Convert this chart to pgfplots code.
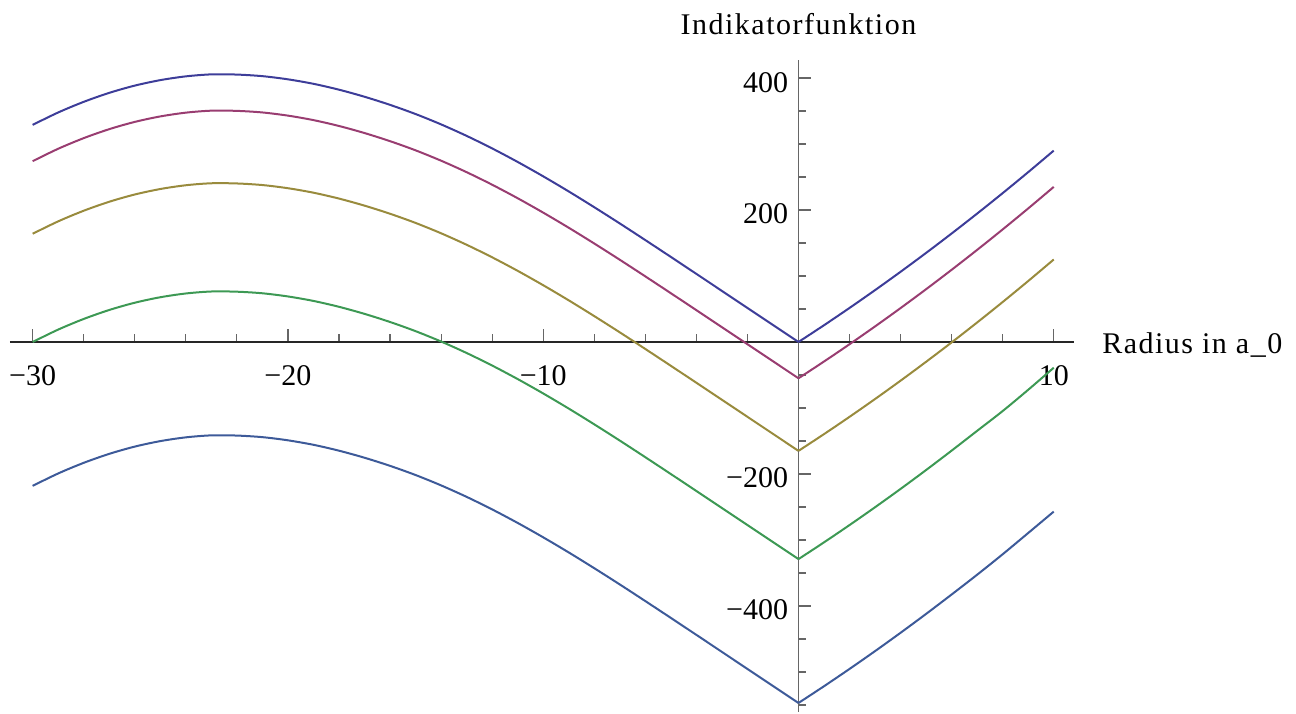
\documentclass[border=0pt]{standalone}
\usepackage{fontspec}
\setmainfont{Liberation Serif}
\newfontfamily\spaced{Liberation Serif}[LetterSpace=5]
\usepackage{pgfplots}
\usepackage{pgfplotstable}
\pgfplotsset{compat=1.18}

\definecolor{c1}{RGB}{61,61,153}
\definecolor{c2}{RGB}{153,61,113}
\definecolor{c3}{RGB}{153,139,61}
\definecolor{c4}{RGB}{61,153,84}
\definecolor{c5}{RGB}{61,90,153}

\newcommand\lbl{\fontsize{15}{18}\selectfont}

% left branch, r from -30 to 0
\pgfplotstableread{
x a b c d e
-30 329.0 274.0 164.0 0.0 -218.0
-29 347.8 292.8 182.8 18.8 -199.2
-28 363.9 308.9 198.9 34.9 -183.1
-27 377.5 322.5 212.5 48.5 -169.5
-26 388.5 333.5 223.5 59.5 -158.5
-25 396.8 341.8 231.8 67.8 -150.2
-24 402.5 347.5 237.5 73.5 -144.5
-23 405.5 350.5 240.5 76.5 -141.5
-22 405.2 350.2 240.2 76.2 -141.8
-21 402.8 347.8 237.8 73.8 -144.2
-20 398.0 343.0 233.0 69.0 -149.0
-19 391.2 336.2 226.2 62.2 -155.8
-18 382.3 327.3 217.3 53.3 -164.7
-17 371.6 316.6 206.6 42.6 -175.4
-16 359.3 304.3 194.3 30.3 -187.7
-15 345.4 290.4 180.4 16.4 -201.6
-14 329.7 274.7 164.7 0.7 -217.3
-13 312.3 257.3 147.3 -16.7 -234.7
-12 293.3 238.3 128.3 -35.7 -253.7
-11 272.8 217.8 107.8 -56.2 -274.2
-10 251.0 196.0 86.0 -78.0 -296.0
-9 228.1 173.1 63.1 -100.9 -318.9
-8 204.2 149.2 39.2 -124.8 -342.8
-7 179.6 124.6 14.6 -149.4 -367.4
-6 154.4 99.4 -10.6 -174.6 -392.6
-5 128.9 73.9 -36.1 -200.1 -418.1
-4 103.2 48.2 -61.8 -225.8 -443.8
-3 77.4 22.4 -87.6 -251.6 -469.6
-2 51.6 -3.4 -113.4 -277.4 -495.4
-1 25.8 -29.2 -139.2 -303.2 -521.2
0 0 -55 -165 -329 -547
}\datL

% right branch, r from 0 to 10
\pgfplotstableread{
x a b c d e
0 0 -55 -165 -329 -547
1 25.4 -29.6 -139.6 -303.6 -521.6
2 51.6 -3.4 -113.4 -277.4 -495.4
3 78.6 23.6 -86.4 -250.4 -468.4
4 106.4 51.4 -58.6 -222.6 -440.6
5 135 80 -30 -194 -412
6 164.4 109.4 -0.6 -164.6 -382.6
7 194.6 139.6 29.6 -134.6 -352.6
8 225.6 170.6 60.6 -104.6 -321.6
9 257.4 202.4 92.4 -72.4 -289.4
10 290 235 125 -39 -257
}\datR

\begin{document}
\begin{tikzpicture}
\begin{axis}[
  scale only axis,
  width=532pt, height=326pt,
  axis lines=middle,
  axis line style={-, line width=0.6pt},
  x axis line style={black!85},
  y axis line style={black!60},
  xmin=-30.89, xmax=10.79,
  ymin=-560.6, ymax=427.3,
  clip=false,
  xtick={-30,-20,-10,10},
  xticklabels={−30,−20,−10,10},
  minor xtick={-28,-26,...,8},
  ytick={-400,-200,200,400},
  yticklabels={−400,−200,200,400},
  minor ytick={-550,-500,...,400},
  tick align=inside,
  major tick length=6.5pt,
  minor tick length=4pt,
  every tick/.style={line width=0.6pt, black!60},
  xticklabel style={font=\lbl, inner sep=0pt, anchor=base, yshift=-22pt},
  yticklabel style={font=\lbl, inner sep=0pt, anchor=base east, xshift=-5pt, yshift=-7pt},
  xlabel={Radius in a\_0},
  ylabel={Indikatorfunktion},
  xlabel style={font=\lbl\spaced, inner sep=0pt, at={(axis cs:10.79,0)}, anchor=base west, xshift=14pt, yshift=-5.6pt},
  ylabel style={font=\lbl\spaced, inner sep=0pt, at={(axis cs:0,427.3)}, anchor=base, rotate=0, yshift=12.8pt},
  every axis plot/.append style={line width=1pt, smooth, no marks},
]
\addplot[c1] table[x=x,y=a] {\datL};
\addplot[c1] table[x=x,y=a] {\datR};
\addplot[c2] table[x=x,y=b] {\datL};
\addplot[c2] table[x=x,y=b] {\datR};
\addplot[c3] table[x=x,y=c] {\datL};
\addplot[c3] table[x=x,y=c] {\datR};
\addplot[c4] table[x=x,y=d] {\datL};
\addplot[c4] table[x=x,y=d] {\datR};
\addplot[c5] table[x=x,y=e] {\datL};
\addplot[c5] table[x=x,y=e] {\datR};
\coordinate (bl) at (axis cs:-31.28,-563.6);
\coordinate (tr) at (axis cs:19.49,518.2);
\end{axis}
\pgfresetboundingbox
\path[use as bounding box] (bl) rectangle (tr);
\end{tikzpicture}
\end{document}
